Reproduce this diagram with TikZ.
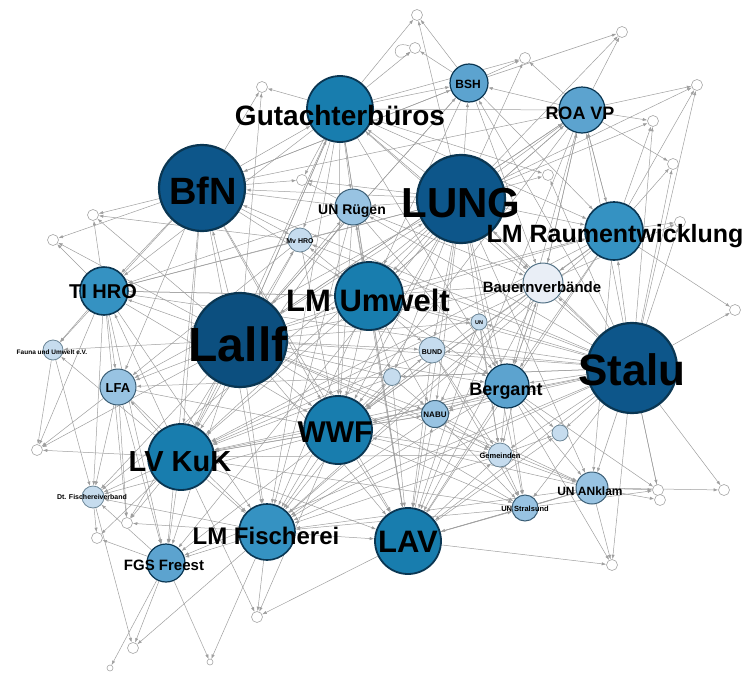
\documentclass[tikz,border=0pt]{standalone}
\usepackage{fontspec}
\setmainfont{Liberation Sans}
\usetikzlibrary{arrows.meta}
\pgfdeclarelayer{bg}
\pgfsetlayers{bg,main}
\definecolor{cdark}{HTML}{0D568A}
\definecolor{cmed}{HTML}{187DAE}
\definecolor{cml}{HTML}{3592C2}
\definecolor{clt}{HTML}{5CA3CF}
\definecolor{clt2}{HTML}{98C3E2}
\definecolor{cvl}{HTML}{C6DCEE}
\definecolor{cbauer}{HTML}{E9EEF6}
\definecolor{cbord}{HTML}{0A3652}
\newcommand\fsz[1]{\fontsize{#1}{#1}\selectfont\bfseries}
\begin{document}
\begin{tikzpicture}[x=1pt,y=-1pt,
  gn/.style={circle,inner sep=0pt,draw=cbord},
  ndark/.style={gn,fill=cdark,line width=2.2pt},
  nmed/.style={gn,fill=cmed,line width=1.8pt},
  nml/.style={gn,fill=cml,line width=1.6pt},
  nlt/.style={gn,fill=clt,line width=1.2pt},
  nlt2/.style={gn,fill=clt2,line width=1pt,draw=cbord!80},
  nvl/.style={gn,fill=cvl,line width=0.8pt,draw=cbord!60},
  nbauer/.style={gn,fill=cbauer,line width=1pt,draw=cbord!70},
  nwhite/.style={gn,fill=white,line width=0.6pt,draw=black!35,minimum size=11pt},
  lab/.style={inner sep=0pt,text=black},
  edge/.style={draw=black!38,line width=0.5pt,-{Latex[length=4.5pt,width=3.2pt]}}]
\useasboundingbox (0,0) rectangle (755,675);
% ---- main nodes
\node[ndark,minimum size=86pt] (bfn) at (202,188) {};
\node[ndark,minimum size=88pt] (lung) at (461,199) {};
\node[ndark,fill=cdark!92!black,minimum size=94pt] (lallf) at (240,340) {};
\node[ndark,minimum size=90pt] (stalu) at (632,368) {};
\node[nmed,minimum size=66pt] (gut) at (340,109) {};
\node[nml,minimum size=58pt] (lmr) at (614,231) {};
\node[nmed,minimum size=68pt] (lmu) at (369,296) {};
\node[nmed,minimum size=68pt] (wwf) at (338,430) {};
\node[nmed,minimum size=66pt] (lvk) at (181,457) {};
\node[nml,minimum size=56pt] (lmf) at (267,532) {};
\node[nmed,minimum size=66pt] (lav) at (408,541) {};
\node[nlt,minimum size=44pt] (berg) at (507,386) {};
\node[nlt,minimum size=46pt] (roa) at (582,110) {};
\node[nlt,minimum size=38pt] (bsh) at (469,83) {};
\node[nml,minimum size=48pt] (ti) at (104,291) {};
\node[nlt2,minimum size=36pt] (unr) at (353,207) {};
\node[nbauer,minimum size=40pt] (bauer) at (543,283) {};
\node[nvl,minimum size=24pt] (mvh) at (300,240) {};
\node[nlt2,minimum size=36pt] (lfa) at (118,387) {};
\node[nvl,minimum size=20pt] (fauna) at (53,350) {};
\node[nvl,minimum size=22pt] (dtf) at (93,497) {};
\node[nlt,minimum size=38pt] (fgs) at (166,563) {};
\node[nvl,minimum size=16pt] (un) at (479,322) {};
\node[nvl,minimum size=26pt] (bund) at (432,350) {};
\node[nlt2,minimum size=27pt] (nabu) at (435,414) {};
\node[nvl,minimum size=17pt] (xa) at (392,377) {};
\node[nvl,minimum size=24pt] (gem) at (500,455) {};
\node[nvl,minimum size=16pt] (xb) at (560,433) {};
\node[nlt2,minimum size=26pt] (uns) at (525,508) {};
\node[nlt2,minimum size=32pt] (una) at (592,488) {};
% ---- small white nodes
\node[nwhite] (w1) at (417,15) {};
\node[nwhite] (w2) at (415,48) {};
\node[nwhite] (w3) at (525,58) {};
\node[nwhite] (w4) at (622,32) {};
\node[nwhite] (w5) at (697,85) {};
\node[nwhite] (w6) at (653,121) {};
\node[nwhite] (w7) at (673,164) {};
\node[nwhite] (w8) at (680,222) {};
\node[nwhite] (w9) at (548,175) {};
\node[nwhite] (w10) at (735,310) {};
\node[nwhite] (w11) at (262,87) {};
\node[nwhite] (w12) at (302,180) {};
\node[nwhite] (w13) at (93,215) {};
\node[nwhite] (w14) at (53,240) {};
\node[nwhite] (w15) at (37,450) {};
\node[nwhite] (w16) at (127,523) {};
\node[nwhite] (w17) at (97,538) {};
\node[nwhite] (w18) at (257,617) {};
\node[nwhite] (w19) at (133,648) {};
\node[nwhite] (w20) at (658,490) {};
\node[nwhite] (w21) at (724,490) {};
\node[nwhite] (w22) at (612,565) {};
\node[nwhite] (w23) at (660,500) {};
\node[nwhite,minimum size=6pt] (w24) at (210,662) {};
\node[nwhite,minimum size=6pt] (w25) at (110,668) {};
% ---- edges
\begin{pgfonlayer}{bg}
\foreach \s/\tl in {lallf/{bfn,lung,stalu,gut,lmr,lmu,wwf,lvk,lmf,lav,berg,roa,bsh,ti,unr,bauer,mvh,lfa,fauna,dtf,fgs,un,bund,nabu,gem,uns,una,w13,w14,w15,w16,w11,xa},
 stalu/{lung,bfn,gut,lmr,lmu,wwf,lvk,lmf,lav,berg,roa,bsh,bauer,un,bund,nabu,gem,uns,una,xb,w7,w8,w10,w20,w21,w22,w9,w23,xa,ti,lfa,unr,mvh,fgs,w5,w6},
 lung/{bfn,gut,lmr,lmu,wwf,lvk,lmf,lav,roa,bsh,unr,bauer,mvh,ti,berg,w1,w3,w4,w6,w9,w12,nabu,bund,lfa,fgs,dtf,gem,uns,una,xa,w5},
 bfn/{gut,lmu,wwf,lvk,lmf,lav,ti,unr,mvh,lfa,fauna,w13,w14,w11,w12,bsh,roa,fgs},
 gut/{lmu,wwf,lvk,bsh,roa,w1,w2,w11,w3,lmr,ti,unr,mvh,w12,lav,lmf,lallf,berg,bauer,w9},
 lmu/{wwf,lvk,lmf,lav,berg,bund,nabu,un,bauer,lmr,roa,ti,mvh,unr,xa},
 wwf/{lvk,lmf,lav,nabu,bund,berg,fgs,gem,uns,xa,dtf,w18},
 lvk/{lmf,lav,fgs,dtf,lfa,ti,fauna,w15,w16,w17,w18},
 lmf/{lav,fgs,dtf,w18,w19,w16,w24},
 lav/{uns,gem,una,w22,w18,nabu,berg,xb},
 berg/{gem,uns,una,xb,bauer,nabu,lvk,lmf,wwf,w22,w20},
 roa/{w4,w5,w6,w7,bsh,lmr,w3,lav,lmu,lallf,wwf,bauer,berg},
 lmr/{w6,w7,w8,w10,roa,bauer,w5,lav,wwf,lvk,berg,una,lmf},
 ti/{w13,w14,fauna,lfa,w15,lmf,wwf,lmu,fgs,dtf,w16},
 fgs/{w19,w24,w25,dtf,w17},
 una/{w20,w22,w21,w23,lav,lmf,wwf},
 fauna/{w15,dtf},
 bsh/{w1,w2,w3,w4,lmu,lallf,bfn,lmr,bauer},
 dtf/{w17,w19},
 gem/{uns,xb,lvk,lmf,una},
 uns/{una,w20,lmf,lvk},
 unr/{lav,wwf,lvk,lmf,bauer,berg,ti,w12},
 mvh/{lvk,wwf,ti,lfa,w13},
 bund/{lav,wwf,lvk,berg,gem,uns},
 nabu/{lvk,lmf,gem,uns,una},
 un/{lav,berg,wwf,gem,nabu},
 xa/{lav,lmf,lvk,nabu},
 bauer/{lav,wwf,lvk,lmf,roa,w8,berg,gem},
 lfa/{lmf,wwf,fgs,dtf,w15,w16}}{\foreach \t in \tl {\draw[edge] (\s) -- (\t);}}
\draw[edge] (w2) to[out=160,in=220,looseness=10] (w2);
\end{pgfonlayer}
% ---- labels
\node[lab,font=\fsz{38}] at (203,191) {BfN};
\node[lab,font=\fsz{42}] at (461,203) {LUNG};
\node[lab,font=\fsz{48}] at (238,344) {Lallf};
\node[lab,font=\fsz{44}] at (632,370) {Stalu};
\node[lab,font=\fsz{28}] at (340,115) {Gutachterbüros};
\node[lab,font=\fsz{25}] at (615,236) {LM Raumentwicklung};
\node[lab,font=\fsz{31}] at (368,300) {LM Umwelt};
\node[lab,font=\fsz{30}] at (335,432) {WWF};
\node[lab,font=\fsz{29}] at (180,462) {LV KuK};
\node[lab,font=\fsz{24}] at (266,536) {LM Fischerei};
\node[lab,font=\fsz{31}] at (408,542) {LAV};
\node[lab,font=\fsz{18}] at (506,391) {Bergamt};
\node[lab,font=\fsz{18}] at (580,113) {ROA VP};
\node[lab,font=\fsz{12}] at (468,84) {BSH};
\node[lab,font=\fsz{20}] at (103,292) {TI HRO};
\node[lab,font=\fsz{14}] at (352,211) {UN Rügen};
\node[lab,font=\fsz{15}] at (542,287) {Bauernverbände};
\node[lab,font=\fsz{7}] at (300,241) {Mv HRO};
\node[lab,font=\fsz{13}] at (118,388) {LFA};
\node[lab,font=\fsz{6.5}] at (52,352) {Fauna und Umwelt e.V.};
\node[lab,font=\fsz{7}] at (92,497) {Dt. Fischereiverband};
\node[lab,font=\fsz{15}] at (164,565) {FGS Freest};
\node[lab,font=\fsz{5.5}] at (479,323) {UN};
\node[lab,font=\fsz{7}] at (432,352) {BUND};
\node[lab,font=\fsz{8}] at (435,415) {NABU};
\node[lab,font=\fsz{7.5}] at (500,456) {Gemeinden};
\node[lab,font=\fsz{7.5}] at (525,509) {UN Stralsund};
\node[lab,font=\fsz{12}] at (590,491) {UN ANklam};
\end{tikzpicture}
\end{document}
